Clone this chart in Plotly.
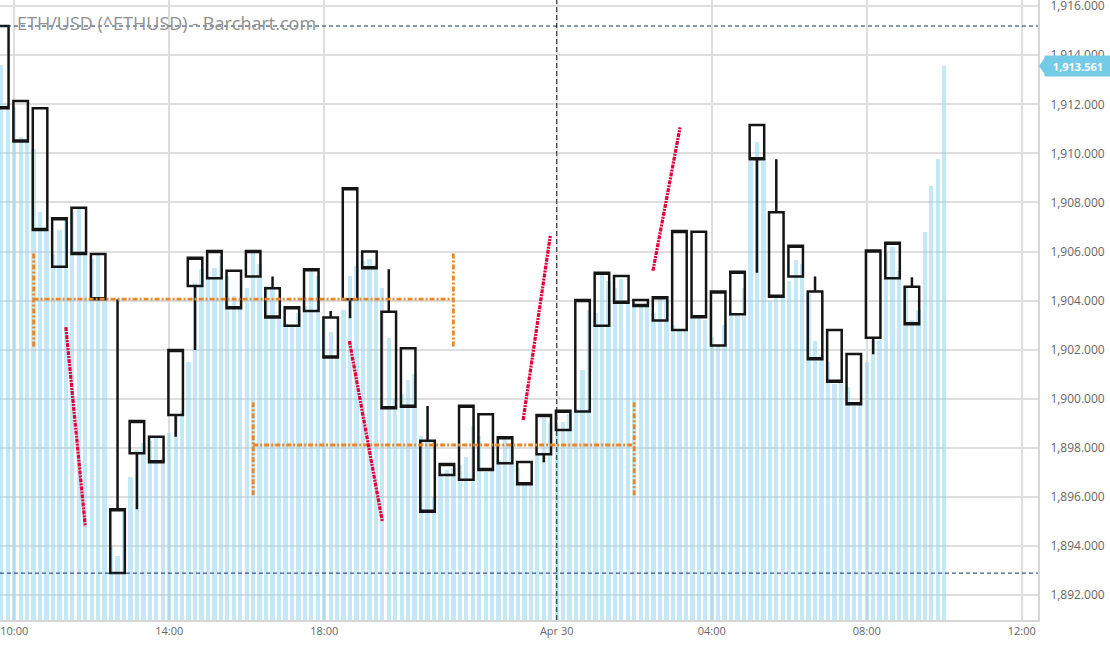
import plotly.graph_objects as go
import pandas as pd

# ---- 30-minute candles (ETH/USD) ----
candle_times = pd.date_range("2023-04-29 09:40", periods=48, freq="30min")
opens = [1915.19, 1912.13, 1911.84, 1905.38, 1907.79, 1905.90, 1892.90, 1897.78,
         1898.46, 1899.34, 1904.60, 1904.91, 1905.22, 1904.98, 1904.51, 1902.98,
         1903.58, 1903.31, 1904.06, 1906.00, 1903.55, 1902.06, 1898.29, 1896.90,
         1896.70, 1899.37, 1897.38, 1897.43, 1897.74, 1898.73, 1899.48, 1902.98,
         1905.01, 1904.03, 1903.19, 1902.81, 1906.81, 1902.17, 1903.45, 1911.16,
         1907.60, 1904.98, 1904.37, 1902.81, 1901.83, 1902.49, 1904.91, 1904.57]
highs = [1915.19, 1912.13, 1911.84, 1907.36, 1907.79, 1905.90, 1904.06, 1899.10,
         1898.46, 1901.99, 1905.75, 1906.02, 1905.22, 1906.02, 1904.98, 1903.73,
         1905.28, 1903.58, 1908.58, 1906.00, 1905.28, 1902.06, 1899.71, 1897.35,
         1899.72, 1899.37, 1898.44, 1897.43, 1899.34, 1899.52, 1904.03, 1905.14,
         1905.01, 1904.03, 1904.14, 1906.84, 1906.81, 1904.37, 1905.18, 1911.16,
         1909.76, 1906.24, 1904.98, 1902.81, 1901.83, 1906.04, 1906.36, 1904.95]
lows = [1911.84, 1910.48, 1906.88, 1905.38, 1905.90, 1904.06, 1892.90, 1895.50,
        1897.42, 1898.46, 1901.99, 1904.91, 1903.69, 1904.98, 1903.31, 1902.98,
        1903.58, 1901.68, 1903.28, 1905.32, 1899.62, 1899.68, 1895.40, 1896.90,
        1896.70, 1897.10, 1897.38, 1896.52, 1897.42, 1898.73, 1899.48, 1902.98,
        1903.92, 1903.78, 1903.19, 1902.81, 1903.32, 1902.17, 1903.45, 1905.14,
        1904.16, 1904.98, 1901.61, 1900.70, 1899.78, 1901.82, 1904.91, 1903.04]
closes = [1911.84, 1910.48, 1906.88, 1907.36, 1905.90, 1904.06, 1895.50, 1899.10,
          1897.42, 1901.99, 1905.75, 1906.02, 1903.69, 1906.02, 1903.31, 1903.73,
          1905.28, 1901.68, 1908.58, 1905.32, 1899.62, 1899.68, 1895.40, 1897.35,
          1899.72, 1897.10, 1898.44, 1896.52, 1899.34, 1899.52, 1904.03, 1905.14,
          1903.92, 1903.78, 1904.14, 1906.84, 1903.32, 1904.37, 1905.18, 1909.76,
          1904.16, 1906.24, 1901.61, 1900.70, 1899.78, 1906.04, 1906.36, 1903.04]

# ---- 10-minute price histogram (light blue) ----
bar_times = pd.date_range("2023-04-29 09:30", periods=148, freq="10min")
bar_values = [
    1915.00, 1913.60, 1912.00,  1911.90, 1910.68, 1910.50,  1910.20, 1907.63, 1906.90,
    1905.90, 1906.88, 1907.30,  1907.60, 1907.79, 1906.00,  1905.70, 1905.90, 1904.10,
    1894.00, 1893.60, 1895.40,  1896.80, 1897.90, 1898.20,  1898.30, 1898.46, 1897.60,
    1898.60, 1899.30, 1899.50,  1901.50, 1904.70, 1905.30,  1905.00, 1905.34, 1905.80,
    1905.00, 1904.20, 1903.80,  1904.50, 1906.00, 1905.50,  1904.60, 1904.50, 1903.40,
    1903.10, 1903.00, 1903.50,  1903.80, 1905.28, 1905.00,  1903.20, 1902.71, 1901.80,
    1903.60, 1905.00, 1905.40,  1905.60, 1905.70, 1905.50,  1904.50, 1902.47, 1900.00,
    1900.20, 1900.77, 1901.00,  1898.50, 1898.29, 1896.00,  1896.90, 1897.10, 1897.20,
    1897.30, 1897.65, 1898.90,  1898.50, 1897.00, 1897.20,  1897.50, 1898.40, 1898.20,
    1897.20, 1896.50, 1896.60,  1897.80, 1899.21, 1899.00,  1898.90, 1899.07, 1899.40,
    1899.60, 1901.18, 1903.60,  1903.50, 1905.05, 1904.80,  1904.50, 1904.87, 1904.00,
    1903.90, 1903.80, 1903.80,  1903.50, 1904.10, 1904.00,  1903.00, 1902.80, 1902.80,
    1903.30, 1903.30, 1903.20,  1902.50, 1902.20, 1903.00,  1903.50, 1903.45, 1904.50,
    1909.70, 1910.48, 1909.70,  1904.00, 1904.10, 1904.10,  1904.80, 1905.66, 1905.50,
    1904.30, 1902.37, 1901.80,  1901.50, 1900.60, 1900.70,  1900.50, 1899.70, 1899.80,
    1901.50, 1902.40, 1902.40,  1906.00, 1906.20, 1905.20,  1904.60, 1903.21, 1903.60,
    1906.81, 1908.68, 1909.77, 1913.561,
]

# ---- axis ticks ----
tick_times = ["2023-04-29 10:00", "2023-04-29 14:00", "2023-04-29 18:00",
              "2023-04-30 00:00", "2023-04-30 04:00", "2023-04-30 08:00",
              "2023-04-30 12:00"]
tick_text = ["10:00", "14:00", "18:00", "Apr 30", "04:00", "08:00", "12:00"]
x_range = ["2023-04-29 09:38:00", "2023-04-30 12:25:12"]
y_range = [1890.99, 1916.25]

# ---- study drawings ----
# (start, end, level, lower cap, upper cap)
range_brackets = [
    ("2023-04-29 10:30", "2023-04-29 21:20", 1904.06, 1902.13, 1905.95),
    ("2023-04-29 16:10", "2023-04-30 02:00", 1898.12, 1896.07, 1899.92),
]
trend_segments = [
    (("2023-04-29 11:20", 1902.92), ("2023-04-29 11:50", 1894.80)),
    (("2023-04-29 18:39", 1902.36), ("2023-04-29 19:30", 1895.00)),
    (("2023-04-29 23:08", 1899.14), ("2023-04-29 23:50", 1906.64)),
    (("2023-04-30 02:29", 1905.22), ("2023-04-30 03:11", 1911.06)),
]
day_break = "2023-04-30 00:00"
title_text = "ETH/USD (^ETHUSD) - Barchart.com"
last_price = bar_values[-1]

PLOT_W, PLOT_H = 1038, 620

fig = go.Figure()

fig.add_trace(go.Bar(
    x=bar_times, y=bar_values, width=400000,
    marker=dict(color="rgba(140,210,237,0.5)", line=dict(width=0)),
    hoverinfo="skip", showlegend=False,
))

candle_style = dict(line=dict(color="#151515", width=2.5), fillcolor="rgba(0,0,0,0)")
fig.add_trace(go.Candlestick(
    x=candle_times, open=opens, high=highs, low=lows, close=closes,
    increasing=candle_style, decreasing=candle_style,
    whiskerwidth=0, showlegend=False,
))

orange = "#e8862a"
for t0, t1, lvl, lo, hi in range_brackets:
    fig.add_trace(go.Scatter(x=[t0, t1], y=[lvl, lvl], mode="lines",
                             line=dict(color=orange, width=2.8, dash="5px,2px,2px,2px"),
                             hoverinfo="skip", showlegend=False))
    for t in (t0, t1):
        fig.add_trace(go.Scatter(x=[t, t], y=[lo, hi], mode="lines",
                                 line=dict(color=orange, width=2.8, dash="5px,2px,2px,2px"),
                                 hoverinfo="skip", showlegend=False))

for (ta, pa), (tb, pb) in trend_segments:
    fig.add_trace(go.Scatter(x=[ta, tb], y=[pa, pb], mode="lines",
                             line=dict(color="#e3003b", width=3.2, dash="4px,1px,2px,1px"),
                             hoverinfo="skip", showlegend=False))

hi_line = max(highs)
lo_line = min(lows)
for lvl in (hi_line, lo_line):
    fig.add_shape(type="line", xref="paper", x0=0, x1=1, yref="y", y0=lvl, y1=lvl,
                  line=dict(color="#14305e", width=1, dash="4px,3px"))
fig.add_shape(type="line", xref="x", x0=day_break, x1=day_break, yref="paper", y0=0, y1=1,
              line=dict(color="#222222", width=1, dash="5px,3px"))

# last price marker
ypos = (last_price - y_range[0]) / (y_range[1] - y_range[0])
px_y = 1.0 / PLOT_H
fig.add_shape(type="path", xref="paper", yref="paper",
              path=f"M {1 + 1/PLOT_W} {ypos} L {1 + 8/PLOT_W} {ypos + 10*px_y} "
                   f"L {1 + 8/PLOT_W} {ypos - 10*px_y} Z",
              fillcolor="#74cbe8", line=dict(width=0), layer="above")
fig.add_annotation(xref="paper", yref="y", x=1 + 6/PLOT_W, y=last_price, xanchor="left",
                   yanchor="middle", text=f"<b>{last_price:,.3f}</b>", showarrow=False,
                   bgcolor="#74cbe8", font=dict(color="white", size=11, family="Open Sans"),
                   borderpad=3, width=60, height=14)

fig.add_annotation(xref="paper", yref="paper", x=15/PLOT_W, y=1 - 23/PLOT_H, xanchor="left",
                   yanchor="middle", text=title_text, showarrow=False,
                   font=dict(color="#909090", size=18, family="Open Sans"))

fig.update_layout(
    width=1110, height=645,
    margin=dict(l=0, r=1110 - PLOT_W, t=0, b=645 - PLOT_H, autoexpand=False),
    paper_bgcolor="white", plot_bgcolor="white",
    boxgap=0.25, boxgroupgap=0, bargap=0,
    font=dict(family="Open Sans", size=11, color="#666666"),
    xaxis=dict(type="date", range=x_range, tickvals=tick_times, ticktext=tick_text,
               showgrid=True, gridcolor="#dedede", gridwidth=1.5,
               showline=True, linecolor="#d6d6d6", linewidth=2,
               ticks="", rangeslider=dict(visible=False), zeroline=False,
               ticklabeloverflow="allow",
               tickfont=dict(size=11, color="#666666")),
    yaxis=dict(side="right", range=y_range, dtick=2, tick0=1890, tickformat=",.3f",
               showgrid=True, gridcolor="#dedede", gridwidth=1.5,
               showline=True, linecolor="#d6d6d6", linewidth=2,
               ticks="", ticklabelstandoff=8, zeroline=False,
               ticklabeloverflow="allow",
               tickfont=dict(size=12, color="#666666")),
    hovermode=False,
)

fig.write_html("out.html", config={"displayModeBar": False},
               post_script="document.body.style.margin='0';document.body.style.overflow='hidden';")
